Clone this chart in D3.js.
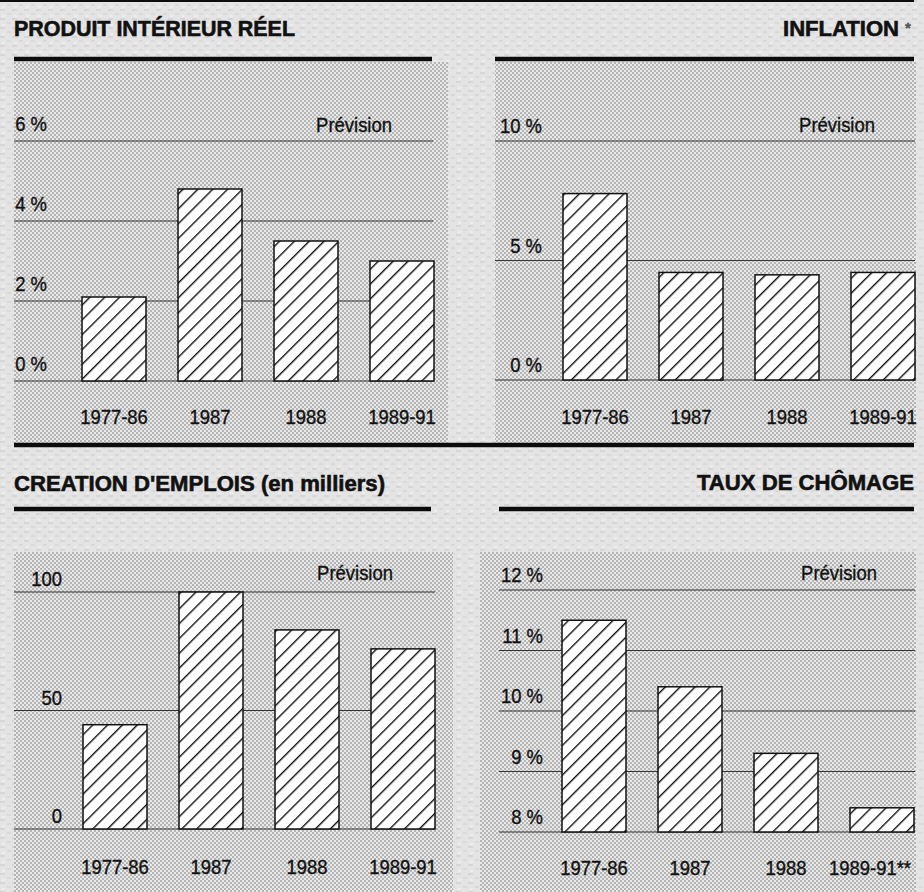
<!DOCTYPE html>
<html>
<head>
<meta charset="utf-8">
<script src="https://cdn.jsdelivr.net/npm/d3@7"></script>
<style>
  body { margin: 0; background: #e2e2e2; }
  svg { display: block; }
  text { font-family: "Liberation Sans", Arial, Helvetica, sans-serif; fill: #111; stroke: #111; stroke-width: 0.35px; }
</style>
</head>
<body>
<div id="chart"></div>
<script>
// data
let categories = ["1977-86", "1987", "1988", "1989-91"];
let pibValues = [2.1, 4.8, 3.5, 3.0];
let inflationValues = [7.8, 4.5, 4.4, 4.5];
let emploisValues = [44, 100, 84, 76];
let chomageValues = [11.5, 10.4, 9.3, 8.4];

let pibTicks = [0, 2, 4, 6];
let pibTickLabels = ["0 %", "2 %", "4 %", "6 %"];
let inflationTicks = [0, 5, 10];
let inflationTickLabels = ["0 %", "5 %", "10 %"];
let emploisTicks = [0, 50, 100];
let emploisTickLabels = ["0", "50", "100"];
let chomageTicks = [8, 9, 10, 11, 12];
let chomageTickLabels = ["8 %", "9 %", "10 %", "11 %", "12 %"];

let titles = ["PRODUIT INTÉRIEUR RÉEL", "INFLATION", "CREATION D'EMPLOIS (en milliers)", "TAUX DE CHÔMAGE"];
let forecastLabel = "Prévision";

let width = 924, height = 892;

let svg = d3.select("#chart").append("svg")
    .attr("width", width)
    .attr("height", height);

let defs = svg.append("defs");

// grainy paper outside the panels
let paper = defs.append("pattern")
    .attr("id", "paper")
    .attr("patternUnits", "userSpaceOnUse")
    .attr("width", 12).attr("height", 9);
paper.append("rect").attr("width", 12).attr("height", 9).attr("fill", "#e4e4e4");
paper.append("rect").attr("x", 0).attr("y", 0).attr("width", 5).attr("height", 2).attr("fill", "#d6d6d6");
paper.append("rect").attr("x", 7).attr("y", 4).attr("width", 4).attr("height", 2).attr("fill", "#d9d9d9");
paper.append("rect").attr("x", 2).attr("y", 6).attr("width", 3).attr("height", 2).attr("fill", "#ededed");

// halftone screen used inside the panels
let dots = defs.append("pattern")
    .attr("id", "halftone")
    .attr("patternUnits", "userSpaceOnUse")
    .attr("width", 4).attr("height", 4);
dots.append("rect").attr("width", 4).attr("height", 4).attr("fill", "#e9e9e9");
dots.append("circle").attr("cx", 1).attr("cy", 1).attr("r", 0.8).attr("fill", "#707070");
dots.append("circle").attr("cx", 3).attr("cy", 3).attr("r", 0.8).attr("fill", "#707070");

// hatch for the bars
let hatch = defs.append("pattern")
    .attr("id", "hatch")
    .attr("patternUnits", "userSpaceOnUse")
    .attr("width", 10.5).attr("height", 10.5)
    .attr("patternTransform", "rotate(45)");
hatch.append("rect").attr("width", 10.5).attr("height", 10.5).attr("fill", "#fff");
hatch.append("line")
    .attr("x1", 0).attr("y1", 0).attr("x2", 0).attr("y2", 10.5)
    .attr("stroke", "#111").attr("stroke-width", 2.8);

// page background
svg.append("rect").attr("width", width).attr("height", height).attr("fill", "url(#paper)");

// halftone areas
let screens = [
  {x: 14, y: 62, w: 434, h: 381},
  {x: 495, y: 62, w: 421, h: 381},
  {x: 14, y: 552, w: 439, h: 340},
  {x: 480, y: 552, w: 436, h: 340}
];
svg.selectAll(".screen")
    .data(screens)
    .enter().append("rect")
    .attr("class", "screen")
    .attr("x", d => d.x).attr("y", d => d.y)
    .attr("width", d => d.w).attr("height", d => d.h)
    .attr("fill", "url(#halftone)");

// heavy rules
let rules = [
  {x1: 0, x2: 914, y: 1, w: 2},
  {x1: 14, x2: 432, y: 59, w: 4.5},
  {x1: 495, x2: 914, y: 59, w: 4.5},
  {x1: 14, x2: 914, y: 445, w: 4.5},
  {x1: 14, x2: 431, y: 509, w: 4.5},
  {x1: 499, x2: 914, y: 509, w: 4.5}
];
svg.selectAll(".rule")
    .data(rules)
    .enter().append("line")
    .attr("class", "rule")
    .attr("x1", d => d.x1).attr("x2", d => d.x2)
    .attr("y1", d => d.y).attr("y2", d => d.y)
    .attr("stroke", "#0c0c0c")
    .attr("stroke-width", d => d.w);

// the printed face is a narrow grotesque: squeeze the wider fallback font
function condense(sel, k) {
  sel.each(function() {
    let len = this.getComputedTextLength();
    d3.select(this)
      .attr("textLength", len * k)
      .attr("lengthAdjust", "spacingAndGlyphs");
  });
}

let panels = [
  {title: titles[0], values: pibValues, ticks: pibTicks, tickLabels: pibTickLabels,
   domain: [0, 6], yRange: [381, 141], xRange: [66, 450], gridX: [14, 433],
   labelX: 47, labelDy: -10, titleX: 14, titleLen: 281, titleAnchor: "start", titleY: 36,
   forecastX: 392, forecastY: 132, catY: 424},
  {title: titles[1], values: inflationValues, ticks: inflationTicks, tickLabels: inflationTickLabels,
   domain: [0, 10], yRange: [380, 141], xRange: [547, 931], gridX: [495, 915],
   labelX: 542, labelDy: -8, titleX: 899, titleLen: 116, titleAnchor: "end", titleY: 36,
   forecastX: 875, forecastY: 132, catY: 424, star: true},
  {title: titles[2], values: emploisValues, ticks: emploisTicks, tickLabels: emploisTickLabels,
   domain: [0, 100], yRange: [829, 592], xRange: [67, 451], gridX: [14, 435],
   labelX: 62, labelDy: -6, titleX: 14, titleLen: 371, titleAnchor: "start", titleY: 491,
   forecastX: 393, forecastY: 580, catY: 874},
  {title: titles[3], values: chomageValues, ticks: chomageTicks, tickLabels: chomageTickLabels,
   domain: [8, 12], yRange: [832, 590], xRange: [546, 930], gridX: [499, 915],
   labelX: 543, labelDy: -8, titleX: 914, titleLen: 217, titleAnchor: "end", titleY: 490,
   forecastX: 877, forecastY: 580, catY: 875, lastStars: true}
];

panels.forEach(function(p) {
  let g = svg.append("g");

  let x = d3.scaleBand()
      .domain(categories)
      .range(p.xRange)
      .paddingInner(1 / 3)
      .paddingOuter(1 / 6);

  let y = d3.scaleLinear()
      .domain(p.domain)
      .range(p.yRange);

  // title
  g.append("text")
      .attr("x", p.titleX)
      .attr("y", p.titleY)
      .attr("text-anchor", p.titleAnchor)
      .attr("textLength", p.titleLen)
      .attr("lengthAdjust", "spacingAndGlyphs")
      .style("font-size", "22px")
      .style("font-weight", "bold")
      .style("stroke-width", "0.6px")
      .text(p.title);
  if (p.star) {
    g.append("text")
        .attr("x", 905).attr("y", 33)
        .style("font-size", "15px")
        .style("font-weight", "bold")
        .style("fill", "#555")
        .style("stroke", "#555")
        .text("*");
  }

  // grid lines
  g.selectAll(".grid")
      .data(p.ticks)
      .enter().append("line")
      .attr("x1", p.gridX[0]).attr("x2", p.gridX[1])
      .attr("y1", d => y(d)).attr("y2", d => y(d))
      .attr("stroke", "#333")
      .attr("stroke-width", 1.2);

  // tick labels
  g.selectAll(".tick-label")
      .data(p.ticks)
      .enter().append("text")
      .attr("x", p.labelX)
      .attr("y", d => y(d) + p.labelDy)
      .attr("text-anchor", "end")
      .style("font-size", "20.5px")
      .text((d, i) => p.tickLabels[i])
      .call(condense, 0.9);

  g.append("text")
      .attr("x", p.forecastX)
      .attr("y", p.forecastY)
      .attr("text-anchor", "end")
      .style("font-size", "20.5px")
      .text(forecastLabel)
      .call(condense, 0.9);

  // bars
  g.selectAll(".bar")
      .data(p.values)
      .enter().append("rect")
      .attr("x", (d, i) => x(categories[i]))
      .attr("y", d => y(d))
      .attr("width", x.bandwidth())
      .attr("height", d => y(p.domain[0]) - y(d))
      .attr("fill", "url(#hatch)")
      .attr("stroke", "#111")
      .attr("stroke-width", 1.5);

  // category labels
  let cats = g.selectAll(".cat")
      .data(categories)
      .enter().append("text")
      .attr("x", d => x(d) + x.bandwidth() / 2)
      .attr("y", p.catY)
      .attr("text-anchor", "middle")
      .style("font-size", "20.5px")
      .text(d => d + (p.lastStars && d === categories[categories.length - 1] ? "**" : ""))
      .call(condense, 0.9);

  if (p.lastStars) {
    cats.filter((d, i) => i === categories.length - 1)
        .attr("dx", -12);
  }
});
</script>
</body>
</html>
